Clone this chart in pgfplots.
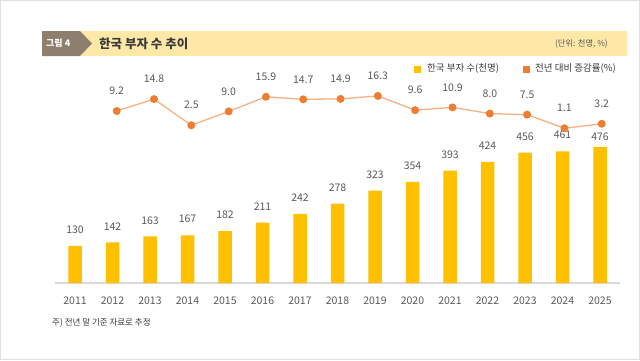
\documentclass[border=0pt]{standalone}
\usepackage{fontspec}
\setmainfont{Noto Sans CJK KR}
\usepackage{pgfplots}
\pgfplotsset{compat=1.18}
\definecolor{bargold}{HTML}{FFC000}
\definecolor{dotor}{HTML}{ED7D31}
\definecolor{lineor}{HTML}{F4B183}
\definecolor{lbl}{HTML}{595959}
\definecolor{band}{HTML}{FDE8A8}
\definecolor{tag}{HTML}{8E7E6E}
\definecolor{ttl}{HTML}{3A3A3A}
\newcommand{\vfont}{\fontsize{10.5bp}{12bp}\selectfont}
\begin{document}
\begin{tikzpicture}[x=1bp,y=1bp]
\fill[white] (0,0) rectangle (640,360);
\draw[black!12, line width=0.8bp] (0.5,0.5) rectangle (639.5,359.5);
% header band
\fill[band] (80,304) rectangle (627,329);
\fill[tag] (42,304) -- (80,304) -- (92,316.5) -- (80,329) -- (42,329) -- cycle;
\node[anchor=west, text=white, inner sep=0pt, font=\fontsize{9bp}{10bp}\selectfont\bfseries] at (46,316.5) {그림 4};
\node[anchor=west, text=ttl, inner sep=0pt, font=\fontsize{12.5bp}{14bp}\selectfont\bfseries] at (99,316.5) {한국 부자 수 추이};
\node[anchor=east, text=lbl, inner sep=0pt, font=\fontsize{8.3bp}{9bp}\selectfont] at (608,316) {(단위: 천명, \%)};
% legend
\fill[bargold] (414,287.5) rectangle (421,294.5);
\node[anchor=west, text=ttl, inner sep=0pt, font=\fontsize{9.5bp}{11bp}\selectfont] at (427,291) {한국 부자 수(천명)};
\fill[dotor] (523,287.5) rectangle (530,294.5);
\node[anchor=west, text=ttl, inner sep=0pt, font=\fontsize{9.5bp}{11bp}\selectfont] at (535,291) {전년 대비 증감률(\%)};
% footnote
\node[anchor=west, text=ttl, inner sep=0pt, font=\fontsize{8.5bp}{10bp}\selectfont] at (52,37) {주) 전년 말 기준 자료로 추정};

\begin{axis}[at={(55bp,77bp)}, anchor=south west, scale only axis,
  width=565bp, height=223bp,
  xmin=2010.4667, xmax=2025.5333, ymin=0, ymax=780.5,
  axis y line=none, axis x line=bottom,
  x axis line style={-, draw=black!15, line width=1.2bp},
  xtick={2011,...,2025}, major tick length=0,
  xticklabel style={font=\vfont, text=lbl, inner sep=0pt, yshift=-14bp},
  /pgf/number format/1000 sep={},
  /pgf/number format/assume math mode=true,
  clip=false]
\addplot[ybar, bar width=13.5bp, fill=bargold, draw=none,
  nodes near coords,
  every node near coord/.append style={font=\vfont, text=lbl, inner sep=0pt, anchor=south, yshift=12bp},
  coordinate style/.condition={\coordindex==14}{yshift=-6bp}]
coordinates {
(2011,130) (2012,142) (2013,163) (2014,167) (2015,182) (2016,211) (2017,242) (2018,278)
(2019,323) (2020,354) (2021,393) (2022,424) (2023,456) (2024,461) (2025,476)};
\end{axis}

\begin{axis}[at={(55bp,77bp)}, anchor=south west, scale only axis,
  width=565bp, height=223bp,
  xmin=2010.3463, xmax=2025.4905, ymin=-71.7, ymax=33.2,
  axis lines=none, clip=false,
  /pgf/number format/.cd, fixed, fixed zerofill, precision=1, assume math mode=true]
\addplot[lineor, line width=1.3bp, mark=*, mark size=3.3bp,
  mark options={fill=dotor, draw=dotor},
  nodes near coords,
  every node near coord/.append style={font=\vfont, text=lbl, inner sep=0pt, anchor=south, yshift=15.5bp}]
coordinates {
(2012,9.2) (2013,14.8) (2014,2.5) (2015,9.0) (2016,15.9) (2017,14.7) (2018,14.9)
(2019,16.3) (2020,9.6) (2021,10.9) (2022,8.0) (2023,7.5) (2024,1.1) (2025,3.2)};
\end{axis}
\end{tikzpicture}
\end{document}
